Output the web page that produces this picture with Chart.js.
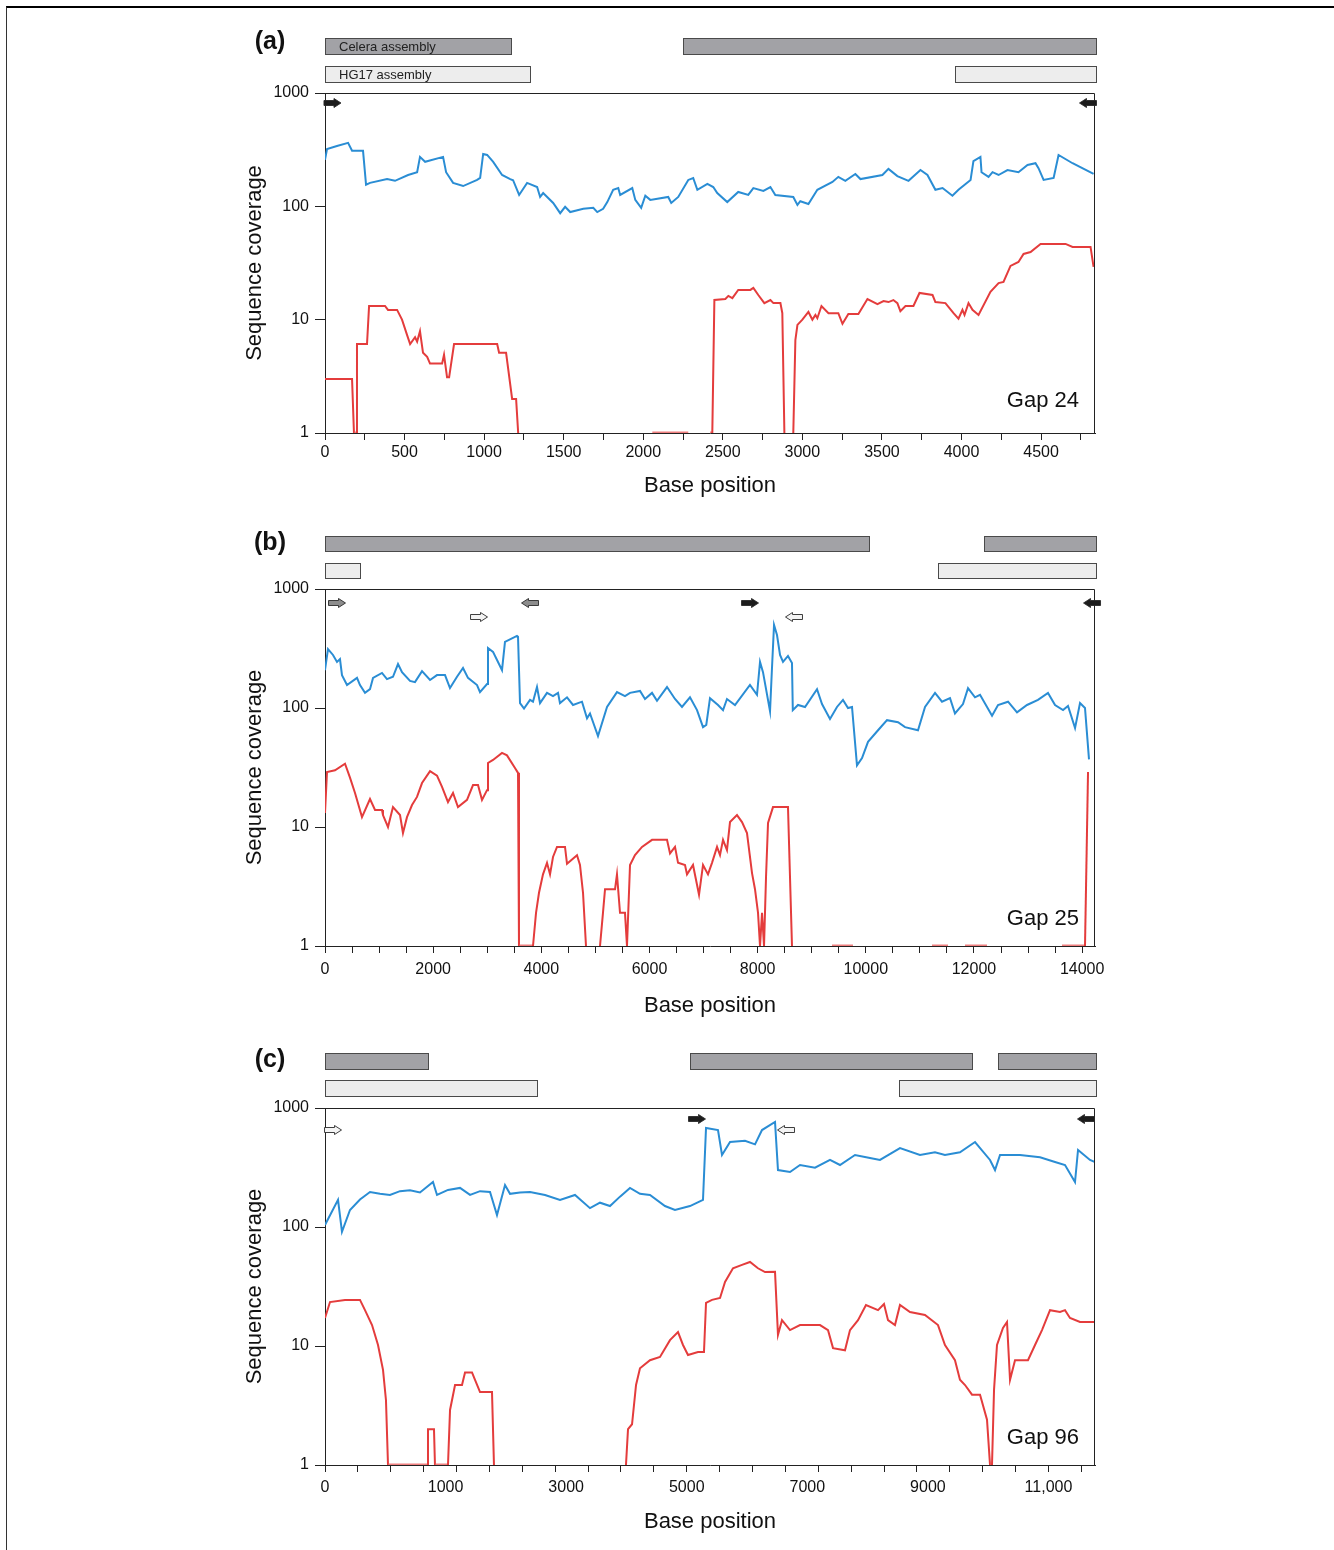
<!DOCTYPE html>
<html lang="en">
<head>
<meta charset="UTF-8" />
<title>Gap coverage</title>
<script src="https://cdn.jsdelivr.net/npm/chart.js"></script>
<style>
  body { margin: 0; background: #fff; }
  #page { position: relative; width: 1334px; height: 1550px; overflow: hidden; }
  #frame { position: absolute; left: 6px; top: 6px; right: -4px; bottom: -4px; border-top: 2px solid #000; border-left: 1px solid #333; }
  canvas { position: absolute; left: 0; }
</style>
</head>
<body>
<div id="page">
  <div id="frame"></div>
  <canvas id="chartA" width="1334" height="510" style="top:0"></canvas>
  <canvas id="chartB" width="1334" height="520" style="top:520px"></canvas>
  <canvas id="chartC" width="1334" height="510" style="top:1040px"></canvas>
</div>
<script>
  // ---- data ----
  const yTicks = [1, 10, 100, 1000];

  // (a) Gap 24
  const xMaxA = 4839;
  const tickMarksA = [0, 250, 500, 750, 1000, 1250, 1500, 1750, 2000, 2250, 2500, 2750, 3000, 3250, 3500, 3750, 4000, 4250, 4500, 4750];
  const labelPosA = [0, 500, 1000, 1500, 2000, 2500, 3000, 3500, 4000, 4500];
  const labelTextA = ['0', '500', '1000', '1500', '2000', '2500', '3000', '3500', '4000', '4500'];
  const celeraA = [[0, 1176], [2252, 4852]];
  const hg17A = [[0, 1296], [3962, 4852]];
  const primerPosA = [47, 4795];
  const primerDirA = ['fwd', 'rev'];
  const primerKindA = ['solid', 'solid'];
  const primerRowA = [0, 0];
  const posBlueA = [0, 13, 75, 145, 170, 239, 258, 283, 390, 440, 522, 579, 597, 629, 742, 761, 805, 868, 956, 975, 994, 1019, 1057, 1113, 1164, 1182, 1220, 1270, 1333, 1352, 1371, 1434, 1478, 1509, 1541, 1623, 1686, 1711, 1748, 1774, 1811, 1843, 1855, 1931, 1950, 1987, 2013, 2044, 2157, 2176, 2220, 2283, 2314, 2340, 2403, 2440, 2465, 2528, 2597, 2660, 2692, 2755, 2799, 2830, 2943, 2969, 2987, 3038, 3094, 3189, 3226, 3270, 3333, 3365, 3503, 3541, 3597, 3667, 3742, 3786, 3836, 3881, 3943, 3981, 4057, 4075, 4119, 4126, 4170, 4195, 4233, 4289, 4358, 4415, 4465, 4484, 4516, 4579, 4610, 4698, 4830];
  const covBlueA = [257, 321, 341, 363, 309, 309, 155, 161, 174, 168, 189, 200, 273, 247, 273, 200, 161, 151, 171, 178, 290, 284, 247, 189, 174, 170, 126, 161, 148, 121, 131, 107, 87, 99, 89, 95, 97, 89, 95, 109, 140, 145, 126, 145, 114, 97, 124, 114, 121, 107, 121, 171, 178, 140, 158, 148, 131, 109, 134, 126, 145, 137, 148, 126, 121, 103, 111, 105, 140, 164, 182, 168, 193, 174, 189, 214, 185, 168, 209, 189, 140, 145, 124, 140, 171, 251, 273, 200, 182, 200, 189, 209, 200, 232, 240, 217, 171, 178, 284, 240, 193];
  const posRedA = [0, 13, 170, 182, 195, 201, 264, 277, 377, 396, 453, 484, 516, 535, 566, 579, 597, 616, 642, 660, 736, 748, 767, 780, 811, 1082, 1094, 1138, 1176, 1201, 1214, 1215, 2057, 2283, 2284, 2420, 2434, 2447, 2516, 2535, 2560, 2597, 2673, 2692, 2723, 2761, 2799, 2818, 2862, 2874, 2887, 2888, 2943, 2956, 2969, 3000, 3038, 3063, 3082, 3094, 3120, 3164, 3226, 3252, 3289, 3352, 3409, 3472, 3510, 3541, 3572, 3597, 3616, 3648, 3698, 3736, 3818, 3836, 3899, 3950, 3981, 4006, 4019, 4044, 4069, 4107, 4182, 4233, 4264, 4308, 4358, 4390, 4434, 4497, 4654, 4698, 4811, 4830];
  const covRedA = [3, 3, 3, 1, 1, 6.1, 6.1, 13.2, 13.2, 12.2, 12.2, 10, 7.3, 6.1, 7, 6.4, 7.9, 5.1, 4.7, 4.1, 4.1, 4.9, 3.1, 3.1, 6.1, 6.1, 5.1, 5.1, 2, 2, 1, null, 1, 1, null, 1, 1, 14.9, 15.2, 16.2, 15.5, 18.3, 18.3, 19.1, 16.5, 14, 14.9, 14, 14, 11.4, 1, null, 1, 6.6, 9, 10, 11.7, 10, 11, 10.3, 13.2, 11.4, 11.4, 9.2, 11.2, 11.2, 15.2, 13.7, 14.6, 14.3, 14.9, 14, 11.9, 13.2, 13.2, 17.2, 16.5, 14.3, 14, 11.4, 10.2, 12.2, 11, 14, 12.2, 11, 17.6, 21, 21.5, 29.8, 32.3, 38, 39.5, 46.6, 46.6, 43.8, 43.8, 29.2];

  // (b) Gap 25
  const xMaxB = 14238;
  const tickMarksB = [];
  for (let v = 0; v <= 14000; v += 500) tickMarksB.push(v);
  const labelPosB = [0, 2000, 4000, 6000, 8000, 10000, 12000, 14000];
  const labelTextB = ['0', '2000', '4000', '6000', '8000', '10000', '12000', '14000'];
  const celeraB = [[0, 10078], [12186, 14276]];
  const hg17B = [[0, 666], [11335, 14276]];
  const primerPosB = [222, 2848, 3791, 7859, 8672, 14183];
  const primerDirB = ['fwd', 'fwd', 'rev', 'fwd', 'rev', 'rev'];
  const primerKindB = ['grey', 'open', 'grey', 'solid', 'open', 'solid'];
  const primerRowB = [0, 1, 0, 0, 1, 0];
  const posBlueB = [0, 55, 148, 222, 277, 314, 407, 592, 647, 740, 832, 888, 1054, 1146, 1257, 1350, 1424, 1572, 1664, 1794, 1942, 2071, 2219, 2311, 2441, 2552, 2644, 2811, 2866, 2996, 3014, 3107, 3181, 3273, 3328, 3550, 3569, 3606, 3680, 3791, 3846, 3920, 3976, 4105, 4216, 4309, 4345, 4475, 4586, 4752, 4845, 4900, 5048, 5215, 5399, 5547, 5640, 5825, 5917, 6047, 6139, 6324, 6472, 6601, 6749, 6879, 6990, 7050, 7119, 7267, 7360, 7433, 7581, 7858, 7988, 8044, 8099, 8229, 8266, 8303, 8358, 8414, 8469, 8561, 8635, 8650, 8746, 8876, 9098, 9190, 9338, 9467, 9578, 9671, 9745, 9837, 9930, 10041, 10226, 10392, 10596, 10725, 10965, 11095, 11280, 11409, 11557, 11649, 11797, 11890, 12019, 12112, 12334, 12445, 12630, 12796, 12981, 13184, 13369, 13499, 13647, 13739, 13869, 13961, 14053, 14127];
  const covBlueB = [208, 313, 279, 244, 258, 189, 156, 179, 156, 134, 144, 179, 197, 175, 183, 234, 200, 169, 165, 204, 172, 189, 189, 147, 183, 217, 179, 156, 136, 159, 319, 296, 253, 208, 359, 403, 397, 110, 99, 117, 113, 150, 110, 134, 126, 134, 110, 123, 106, 113, 82, 90, 58, 102, 136, 126, 134, 139, 119, 134, 115, 150, 119, 102, 123, 96, 69, 72, 121, 106, 96, 119, 106, 156, 129, 244, 200, 94, 221, 498, 410, 279, 244, 274, 239, 96, 106, 102, 144, 108, 81, 102, 117, 100, 102, 33, 38, 52, 65, 79, 76, 69, 65, 102, 134, 113, 121, 90, 108, 147, 123, 129, 86, 106, 113, 92, 106, 117, 134, 106, 96, 104, 68, 110, 100, 37];
  const posRedB = [0, 37, 185, 370, 462, 555, 684, 832, 925, 1054, 1072, 1165, 1257, 1387, 1442, 1516, 1609, 1701, 1794, 1942, 2071, 2164, 2274, 2367, 2459, 2626, 2737, 2829, 2903, 2996, 3014, 3107, 3273, 3365, 3513, 3569, 3587, 3846, 3902, 3957, 4031, 4105, 4161, 4216, 4290, 4438, 4475, 4660, 4715, 4771, 4826, 4827, 5085, 5140, 5178, 5363, 5399, 5455, 5547, 5584, 5640, 5732, 5862, 6047, 6324, 6380, 6472, 6528, 6657, 6694, 6805, 6916, 6990, 7082, 7156, 7249, 7304, 7360, 7433, 7489, 7618, 7711, 7803, 7896, 7951, 8007, 8044, 8081, 8118, 8155, 8192, 8284, 8561, 8635, 8636, 9375, 9763, 9764, 11224, 11520, 11521, 11834, 12241, 12242, 13628, 14053, 14109];
  const covRedB = [13.1, 29, 30, 34, 26, 19.3, 12.1, 17.2, 13.9, 13.9, 12.6, 10, 14.7, 12.6, 8.9, 12.1, 15.3, 17.9, 23.4, 29.5, 27, 21.7, 16.2, 19.3, 14.7, 16.9, 22.5, 22.5, 16.9, 20.4, 34.5, 36.6, 41.9, 40, 31.3, 28.5, 1, 1, 1.9, 2.8, 4, 5, 4, 5.6, 6.8, 6.8, 4.9, 5.8, 4.8, 2.8, 1, null, 1, 1.9, 3, 3, 4, 1.9, 1.9, 1, 4.8, 5.8, 6.8, 7.8, 7.8, 6, 6.8, 5, 4.8, 4, 4.8, 2.7, 4.8, 4, 5, 6.8, 5.8, 7.8, 6.4, 11, 12.6, 11, 8.9, 4.1, 3, 1.9, 1, 1.9, 1, 3.8, 10.8, 14.7, 14.7, 1, null, 1, 1, null, 1, 1, null, 1, 1, null, 1, 1, 29];

  // (c) Gap 96 -- tick labels sit where the original figure printed them
  const xMaxC = 11707;
  const tickMarksC = [];
  for (let v = 0; v <= 11500; v += 500) tickMarksC.push(v);
  const labelPosC = [0, 1833.3, 3666.7, 5500, 7333.3, 9166.7, 11000];
  const labelTextC = ['0', '1000', '3000', '5000', '7000', '9000', '11,000'];
  const celeraC = [[0, 1581], [5549, 9852], [10232, 11737]];
  const hg17C = [[0, 3238], [8727, 11737]];
  const primerPosC = [122, 5656, 7009, 11570];
  const primerDirC = ['fwd', 'fwd', 'rev', 'rev'];
  const primerKindC = ['open', 'solid', 'open', 'solid'];
  const primerRowC = [1, 0, 1, 0];
  const posBlueC = [0, 198, 258, 380, 532, 684, 836, 988, 1140, 1292, 1444, 1642, 1703, 1870, 2053, 2205, 2357, 2509, 2615, 2737, 2813, 2965, 3117, 3345, 3573, 3801, 4029, 4181, 4333, 4485, 4637, 4789, 4941, 5169, 5321, 5549, 5747, 5793, 5975, 6036, 6158, 6386, 6538, 6644, 6842, 6887, 7070, 7222, 7450, 7678, 7830, 8058, 8286, 8438, 8742, 9046, 9274, 9426, 9654, 9883, 10111, 10187, 10263, 10567, 10871, 11099, 11251, 11403, 11449, 11631, 11707];
  const covBlueC = [104, 169, 91, 139, 170, 197, 190, 186, 200, 204, 195, 239, 186, 205, 213, 186, 200, 197, 126, 225, 190, 195, 197, 186, 169, 186, 144, 160, 150, 180, 213, 190, 186, 150, 139, 150, 169, 679, 653, 403, 518, 530, 495, 653, 763, 301, 290, 332, 315, 366, 332, 403, 380, 366, 461, 403, 425, 403, 425, 518, 366, 301, 403, 403, 385, 352, 332, 239, 444, 366, 352];
  const posRedC = [0, 76, 304, 532, 608, 715, 806, 882, 927, 958, 1520, 1551, 1566, 1657, 1672, 1870, 1901, 1977, 2083, 2129, 2235, 2281, 2357, 2539, 2569, 2570, 4576, 4607, 4668, 4729, 4789, 4941, 5093, 5245, 5367, 5443, 5519, 5671, 5762, 5793, 5884, 6006, 6082, 6203, 6340, 6462, 6583, 6690, 6842, 6887, 6948, 7070, 7222, 7526, 7648, 7724, 7906, 7982, 8104, 8225, 8408, 8499, 8560, 8666, 8742, 8894, 9122, 9320, 9426, 9578, 9654, 9731, 9837, 9959, 10065, 10111, 10141, 10172, 10217, 10308, 10369, 10415, 10491, 10688, 10795, 10901, 11023, 11175, 11251, 11327, 11479, 11707];
  const covRedC = [17.2, 23.4, 24.4, 24.4, 20, 15, 10.2, 6.3, 3.5, 1, 1, 1, 2, 2, 1, 1, 2.9, 4.7, 4.7, 6, 6, 5.2, 4.1, 4.1, 1, null, 1, 2, 2.2, 4.7, 6.5, 7.6, 8.1, 11.2, 13.1, 10.2, 8.4, 8.9, 8.9, 23, 24.4, 25.3, 34.5, 45, 48, 50.8, 45, 41.8, 42, 12.4, 16.5, 13.6, 15, 15, 13.6, 9.6, 9.2, 13.6, 16.5, 22.1, 20, 22.5, 16.5, 15, 22.1, 19.3, 18.2, 15, 10.2, 7.6, 5.2, 4.7, 3.9, 3.9, 2.4, 1, 1, 4.3, 10.2, 14.2, 15.9, 5.2, 7.6, 7.6, 10.2, 13.6, 20, 19.3, 20, 17.2, 15.9, 15.9];

  // ---- drawing ----
  const FONT = "'Liberation Sans', Arial, Helvetica, sans-serif";
  const BLUE = '#2a8dd4';
  const RED = '#e43c3c';
  const RED_ZERO = 'rgba(236,96,96,0.8)';
  const primerFill = { solid: '#1c1c1c', grey: '#8c8c8c', open: '#f4f4f4' };

  function zip(pos, cov) {
    return pos.map((x, i) => ({ x, y: cov[i] }));
  }

  function onFloor(c) {
    return c.p0.parsed.y === 1 && c.p1.parsed.y === 1;
  }

  function drawArrow(ctx, cx, cy, dir, kind) {
    const s = dir === 'fwd' ? 1 : -1;
    const pts = [[-8.5, -2.5], [1.5, -2.5], [1.5, -4.5], [8.5, 0], [1.5, 4.5], [1.5, 2.5], [-8.5, 2.5]];
    ctx.beginPath();
    pts.forEach(([dx, dy], i) => {
      const px = cx + s * dx, py = cy + dy;
      if (i === 0) ctx.moveTo(px, py); else ctx.lineTo(px, py);
    });
    ctx.closePath();
    ctx.fillStyle = primerFill[kind];
    ctx.fill();
    ctx.strokeStyle = '#2a2a2a';
    ctx.lineWidth = 0.9;
    ctx.stroke();
  }

  const decor = {
    id: 'decor',
    afterDraw(chart, args, o) {
      const { ctx, chartArea: a } = chart;
      const xs = chart.scales.x;
      ctx.save();
      // top and right edges of the plot box (left/bottom are the axes)
      const l = Math.round(a.left) + 0.5, t = Math.round(a.top) + 0.5;
      const r = Math.round(a.right) - 0.5, b = Math.round(a.bottom);
      ctx.strokeStyle = '#222';
      ctx.lineWidth = 1;
      ctx.beginPath();
      ctx.moveTo(l, t);
      ctx.lineTo(r, t);
      ctx.lineTo(r, b);
      ctx.stroke();

      // panel letter
      ctx.fillStyle = '#111';
      ctx.font = 'bold 25px ' + FONT;
      ctx.textAlign = 'center';
      ctx.textBaseline = 'middle';
      ctx.fillText(o.letter, a.left - 55, a.top - o.letterDy);

      // assembly blocks
      const bars = (blocks, dy, h, fill, text) => {
        blocks.forEach(([s, e], i) => {
          const x0 = Math.round(xs.getPixelForValue(s)), x1 = Math.round(xs.getPixelForValue(e));
          const top = Math.round(a.top - dy);
          ctx.fillStyle = fill;
          ctx.fillRect(x0, top, x1 - x0, h);
          ctx.strokeStyle = '#4a4a4a';
          ctx.lineWidth = 1;
          ctx.strokeRect(x0 + 0.5, top + 0.5, x1 - x0 - 1, h - 1);
          if (text && i === 0) {
            ctx.fillStyle = '#222';
            ctx.font = '13px ' + FONT;
            ctx.textAlign = 'left';
            ctx.textBaseline = 'middle';
            ctx.fillText(text, x0 + 14, top + h / 2 + 0.5);
          }
        });
      };
      bars(o.celera, o.celeraDy, o.barH, '#a2a2a6', o.showNames ? 'Celera assembly' : null);
      bars(o.hg17, o.hg17Dy, o.barH, '#ededed', o.showNames ? 'HG17 assembly' : null);

      // primer arrows
      o.primerPos.forEach((p, i) => {
        drawArrow(ctx, xs.getPixelForValue(p), a.top + o.rowDy[o.primerRow[i]], o.primerDir[i], o.primerKind[i]);
      });

      // gap name
      ctx.fillStyle = '#111';
      ctx.font = '22px ' + FONT;
      ctx.textAlign = 'right';
      ctx.textBaseline = 'alphabetic';
      ctx.fillText(o.gap, a.right - 16, a.bottom - o.gapDy);
      ctx.restore();
    }
  };

  function makePanel(id, p) {
    const marks = new Set(p.tickMarks);
    const labels = new Map(p.labelPos.map((v, i) => [v, p.labelText[i]]));
    const all = Array.from(new Set([...p.tickMarks, ...p.labelPos])).sort((a, b) => a - b);

    return new Chart(document.getElementById(id), {
      type: 'line',
      data: {
        datasets: [
          { label: 'all reads', data: zip(p.posBlue, p.covBlue), borderColor: BLUE, borderWidth: 2, pointRadius: 0, tension: 0 },
          {
            label: 'unique reads', data: zip(p.posRed, p.covRed), borderColor: RED, borderWidth: 2, pointRadius: 0, tension: 0, spanGaps: false,
            segment: {
              borderColor: c => onFloor(c) ? RED_ZERO : undefined,
              borderWidth: c => onFloor(c) ? 3 : undefined
            }
          }
        ]
      },
      options: {
        responsive: false,
        animation: false,
        layout: { padding: p.pad },
        plugins: {
          legend: { display: false },
          tooltip: { enabled: false },
          decor: p.decor
        },
        scales: {
          x: {
            type: 'linear', min: 0, max: p.xMax,
            afterBuildTicks: s => { s.ticks = all.map(v => ({ value: v })); },
            afterFit: s => { s.height = p.xAxisH; },
            ticks: {
              autoSkip: false, maxRotation: 0, padding: p.xLabelPad,
              callback: v => labels.has(v) ? labels.get(v) : '',
              font: { family: FONT, size: 16 }, color: '#111'
            },
            grid: {
              drawOnChartArea: false, tickLength: 7, tickWidth: 1,
              tickColor: c => (c.tick && marks.has(c.tick.value)) ? '#222' : 'rgba(0,0,0,0)'
            },
            border: { color: '#222', width: 1, z: -1 },
            title: { display: true, text: 'Base position', font: { family: FONT, size: 22 }, color: '#111', padding: { top: 0, bottom: 0 } }
          },
          y: {
            type: 'logarithmic', min: 1, max: 1000,
            afterBuildTicks: s => { s.ticks = yTicks.map(v => ({ value: v })); },
            afterFit: s => { s.width = 90; },
            ticks: { callback: v => String(v), font: { family: FONT, size: 16 }, color: '#111', padding: 6 },
            grid: { drawOnChartArea: false, tickLength: 10, tickWidth: 1, tickColor: '#222' },
            border: { color: '#222', width: 1 },
            title: { display: true, text: 'Sequence coverage', font: { family: FONT, size: 22 }, color: '#111', padding: { top: 7, bottom: 0 } }
          }
        }
      },
      plugins: [decor]
    });
  }

  makePanel('chartA', {
    xMax: xMaxA, tickMarks: tickMarksA, labelPos: labelPosA, labelText: labelTextA,
    posBlue: posBlueA, covBlue: covBlueA, posRed: posRedA, covRed: covRedA,
    pad: { left: 235, top: 93, right: 239, bottom: 11 }, xAxisH: 66, xLabelPad: 3,
    decor: {
      letter: '(a)', letterDy: 51, gap: 'Gap 24', gapDy: 26, showNames: true,
      celera: celeraA, hg17: hg17A, celeraDy: 55, hg17Dy: 27, barH: 17,
      primerPos: primerPosA, primerDir: primerDirA, primerKind: primerKindA, primerRow: primerRowA, rowDy: [10, 24]
    }
  });

  makePanel('chartB', {
    xMax: xMaxB, tickMarks: tickMarksB, labelPos: labelPosB, labelText: labelTextB,
    posBlue: posBlueB, covBlue: covBlueB, posRed: posRedB, covRed: covRedB,
    pad: { left: 235, top: 69, right: 239, bottom: 21 }, xAxisH: 73, xLabelPad: 7,
    decor: {
      letter: '(b)', letterDy: 46, gap: 'Gap 25', gapDy: 21, showNames: false,
      celera: celeraB, hg17: hg17B, celeraDy: 53, hg17Dy: 26, barH: 16,
      primerPos: primerPosB, primerDir: primerDirB, primerKind: primerKindB, primerRow: primerRowB, rowDy: [14, 28]
    }
  });

  makePanel('chartC', {
    xMax: xMaxC, tickMarks: tickMarksC, labelPos: labelPosC, labelText: labelTextC,
    posBlue: posBlueC, covBlue: covBlueC, posRed: posRedC, covRed: covRedC,
    pad: { left: 235, top: 68, right: 239, bottom: 15 }, xAxisH: 70, xLabelPad: 6,
    decor: {
      letter: '(c)', letterDy: 48, gap: 'Gap 96', gapDy: 21, showNames: false,
      celera: celeraC, hg17: hg17C, celeraDy: 55, hg17Dy: 28, barH: 17,
      primerPos: primerPosC, primerDir: primerDirC, primerKind: primerKindC, primerRow: primerRowC, rowDy: [11, 22]
    }
  });
</script>
</body>
</html>
